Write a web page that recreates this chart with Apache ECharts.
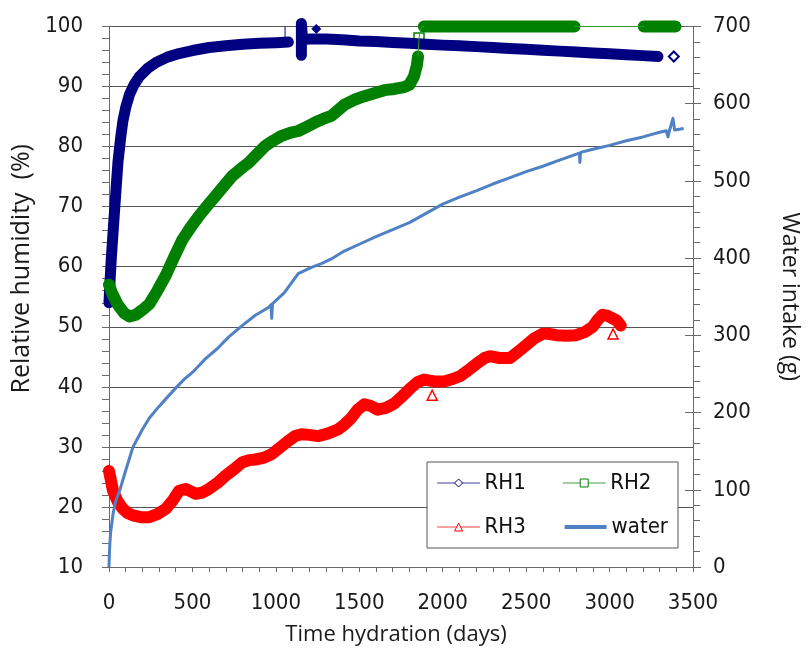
<!DOCTYPE html>
<html><head><meta charset="utf-8">
<script src="https://cdn.jsdelivr.net/npm/echarts@6/dist/echarts.min.js"></script>
<style>html,body{margin:0;padding:0;background:#fff}#c{width:809px;height:651px}</style>
</head><body><div id="c"></div>
<script>
// ---- data (days, values) ----
const rh1Days = [0,5,14,25,34,45,54,70,83,100,123,150,183,230,282,350,420,500,600,700,800,900,1000,1075,1110,1153,1153,1160,1200,1300,1400,1500,1600,1700,1800,1900,2000,2100,2200,2300,2400,2500,2600,2700,2800,2900,3000,3100,3200,3290];
const rh1Vals = [54,57,61.5,66,69.6,74,77.5,81.5,84.2,86.5,88.7,90.3,91.7,93,94,94.9,95.5,96,96.5,96.8,97.05,97.2,97.3,97.4,null,95.2,100.5,97.8,97.9,97.9,97.8,97.6,97.5,97.35,97.2,97.05,96.9,96.8,96.65,96.5,96.35,96.2,96.05,95.9,95.75,95.6,95.45,95.3,95.15,95.0];
const rh1ThinDays = [1055,1055];
const rh1ThinVals = [97.4,100];
const rh1FilledDays = [1242];
const rh1FilledVals = [99.6];
const rh1HollowDays = [3385];
const rh1HollowVals = [95.0];

const rh2Days = [0,20,50,90,123,160,200,242,290,341,390,440,490,540,590,639,690,738,790,837,890,936,985,1035,1085,1134,1185,1234,1283,1332,1370,1412,1470,1531,1590,1650,1710,1769,1800,1828,1845,1852,1870,1887,2790,3000,3205,3395];
const rh2Vals = [57,55.5,53.8,52.3,51.7,52,52.8,53.8,56,58.6,61.6,64.5,66.6,68.5,70.2,71.8,73.5,75.1,76.3,77.3,78.8,80.1,81,81.8,82.3,82.6,83.3,84,84.6,85.1,86,87,87.8,88.4,88.9,89.4,89.6,89.9,90.3,91.7,93.5,95,null,100,100,null,100,100];
const rh2ThinDays = [1852,1858,1872,1887,2000,2790,3205];
const rh2ThinVals = [95,98.1,100,100,null,100,100];
const rh2HollowDays = [1858];
const rh2HollowVals = [98.1];
const rh2TickDays = [2790,3240];
const rh2TickVals = [100,100];

const rh3Days = [0,24,50,83,110,143,190,242,290,341,380,420,460,490,520,560,599,650,698,750,797,840,877,930,975,1030,1075,1115,1154,1200,1253,1310,1372,1410,1451,1490,1531,1570,1610,1660,1709,1760,1808,1850,1888,1950,2007,2060,2106,2150,2205,2250,2284,2340,2403,2450,2502,2550,2602,2640,2681,2740,2800,2850,2899,2930,2958,2990,3018,3045,3067];
const rh3Vals = [26,22.7,21,19.7,19,18.6,18.3,18.3,18.8,19.7,21,22.7,23,22.6,22.2,22.4,23,24,25.2,26.3,27.4,27.8,27.9,28.2,28.8,30,31,31.8,32.1,32,31.8,32.2,32.9,33.7,34.8,36.2,37.1,36.8,36.2,36.5,37.2,38.5,39.8,40.8,41.2,40.9,40.9,41.3,41.8,42.7,43.9,44.8,45.1,44.8,44.8,45.8,47,48.1,48.9,48.8,48.6,48.5,48.6,49.1,50,51.2,52,51.8,51.4,51,50.2];
const rh3HollowDays = [1937,3021];
const rh3HollowVals = [38.6,48.8];

const waterDays = [0,2,5,10,25,40,64,100,143,200,242,300,350,401,450,500,579,650,718,800,877,956,972,975,980,1050,1134,1213,1273,1332,1400,1500,1600,1700,1800,1900,2000,2100,2200,2300,2400,2500,2600,2700,2819,2822,2826,2900,3000,3100,3200,3300,3340,3350,3360,3380,3390,3400,3444];
const waterVals = [0,15,30,45,70,85,99,125,155,178,193,208,220,232,243,252,270,283,298,313,326,336,340,322,341,355,380,388,393,399,408,418,428,437,446,458,470,479,487,496,504,512,519,527,536,524,537,541,546,552,557,563,565,557,566,581,566,567,568];

const xTickLabels = ['0','500','1000','1500','2000','2500','3000','3500'];
const leftTickLabels = ['10','20','30','40','50','60','70','80','90','100'];
const rightTickLabels = ['0','100','200','300','400','500','600','700'];

// ---- helpers ----
const zip = (d, v) => d.map((x, i) => [x, v[i] == null ? '-' : v[i]]);

const NAVY = '#000080', GREEN = '#008000', RED = '#ff0000', BLUE = '#4f81c4';
const TICKFONT = '"DejaVu Sans Condensed", "DejaVu Sans", sans-serif';
const NAMEFONT = '"Open Sans", "Noto Sans", sans-serif';
const AXC = '#6a6a6a';

const labelStyle = { fontFamily: TICKFONT, fontSize: 22, color: '#1a1a1a' };

function band(name, data, color, width, symbol) {
  return { name, type: 'line', yAxisIndex: 0, data, symbol, showSymbol: false, clip: false,
    connectNulls: false, silent: true,
    lineStyle: { color, width, join: 'round', cap: 'round' }, itemStyle: { color } };
}
function thin(name, data, color, axis) {
  return { name, type: 'line', yAxisIndex: axis || 0, data, symbol: 'none', clip: false,
    connectNulls: false, silent: true, lineStyle: { color, width: 1 }, itemStyle: { color } };
}
function marks(name, data, symbol, size, fill, stroke, bw) {
  return { name, type: 'scatter', yAxisIndex: 0, data, symbol, symbolSize: size, clip: false, silent: true,
    itemStyle: { color: fill, borderColor: stroke, borderWidth: bw, opacity: 1 } };
}

const chart = echarts.init(document.getElementById('c'), null, { renderer: 'canvas' });
chart.setOption({
  animation: false,
  backgroundColor: '#fff',
  textStyle: { fontFamily: TICKFONT },
  grid: { left: 109, top: 26.5, width: 588.5, height: 543.5 },
  legend: {
    left: 427, top: 462, width: 240,
    padding: 10, itemGap: 22, itemWidth: 42, itemHeight: 10,
    backgroundColor: '#fff', borderColor: '#555', borderWidth: 1, borderRadius: 0,
    formatter: '{a|{name}}',
    textStyle: { fontFamily: TICKFONT, fontSize: 22, color: '#111',
      rich: { a: { fontFamily: TICKFONT, fontSize: 22, width: 56, lineHeight: 22, color: '#111' } } },
    data: [
      { name: 'RH1', itemStyle: { color: '#fff', borderColor: NAVY, borderWidth: 1 }, lineStyle: { color: '#4040a0', width: 1.2 } },
      { name: 'RH2', itemStyle: { color: '#fff', borderColor: GREEN, borderWidth: 1 }, lineStyle: { color: '#40a040', width: 1.2 } },
      { name: 'RH3', itemStyle: { color: '#fff', borderColor: RED, borderWidth: 1 }, lineStyle: { color: '#ff4040', width: 1.2 } },
      { name: 'water', itemStyle: { opacity: 0 }, lineStyle: { color: BLUE, width: 4 } }
    ]
  },
  xAxis: {
    type: 'value', min: 0, max: 3500, interval: 500,
    name: 'Time hydration (days)', nameLocation: 'middle', nameGap: 57,
    nameTextStyle: { fontFamily: NAMEFONT, fontSize: 22, color: '#1a1a1a', padding: [0, 10, 0, 0] },
    axisLine: { show: true, onZero: false, lineStyle: { color: AXC, width: 1 } },
    axisTick: { show: true, inside: false, length: 5, lineStyle: { color: AXC } },
    minorTick: { show: true, splitNumber: 5, length: 5, lineStyle: { color: AXC } },
    splitLine: { show: false },
    axisLabel: Object.assign({ margin: 25, formatter: (v) => xTickLabels[Math.round(v / 500)] }, labelStyle)
  },
  yAxis: [
    {
      type: 'value', position: 'left', min: 10, max: 100, interval: 10,
      name: 'Relative humidity  (%)', nameLocation: 'middle', nameGap: 67,
      nameTextStyle: { fontFamily: NAMEFONT, fontSize: 25, color: '#1a1a1a', padding: [0, 0, 0, 56] },
      axisLine: { show: true, lineStyle: { color: AXC, width: 1 } },
      axisTick: { show: true, inside: false, length: 7, lineStyle: { color: AXC } },
      minorTick: { show: true, splitNumber: 5, length: 7, lineStyle: { color: AXC } },
      splitLine: { show: true, lineStyle: { color: '#555555', width: 1 } },
      axisLabel: Object.assign({ margin: 26, formatter: (v) => leftTickLabels[Math.round(v / 10) - 1] }, labelStyle)
    },
    {
      type: 'value', position: 'right', min: 0, max: 700, interval: 100,
      name: 'Water intake (g)', nameLocation: 'middle', nameGap: 85, nameRotate: -90,
      nameTextStyle: { fontFamily: NAMEFONT, fontSize: 23, color: '#1a1a1a' },
      axisLine: { show: true, lineStyle: { color: AXC, width: 1 } },
      axisTick: { show: true, inside: false, length: 8, lineStyle: { color: AXC } },
      minorTick: { show: true, splitNumber: 5, length: 7, lineStyle: { color: AXC } },
      splitLine: { show: false },
      axisLabel: Object.assign({ margin: 20, formatter: (v) => rightTickLabels[Math.round(v / 100)] }, labelStyle)
    },
    {
      type: 'value', position: 'right', min: 0, max: 700, interval: 100,
      axisLine: { show: false },
      axisTick: { show: true, inside: true, length: 8, lineStyle: { color: AXC } },
      splitLine: { show: false }, axisLabel: { show: false }
    }
  ],
  series: [
    band('RH1', zip(rh1Days, rh1Vals), NAVY, 11, 'diamond'),
    thin('RH1', zip(rh1ThinDays, rh1ThinVals), NAVY),
    marks('RH1', zip(rh1FilledDays, rh1FilledVals), 'diamond', 9, NAVY, NAVY, 1),
    marks('RH1', zip(rh1HollowDays, rh1HollowVals), 'diamond', 10, '#fff', NAVY, 2),

    band('RH2', zip(rh2Days, rh2Vals), GREEN, 12, 'rect'),
    thin('RH2', zip(rh2ThinDays, rh2ThinVals), '#2e9a2e'),
    marks('RH2', zip(rh2HollowDays, rh2HollowVals), 'rect', 10, '#fff', GREEN, 1.5),
    marks('RH2', zip(rh2TickDays, rh2TickVals), 'rect', [2, 7], '#fff', '#fff', 0),

    band('RH3', zip(rh3Days, rh3Vals), RED, 12, 'triangle'),
    marks('RH3', zip(rh3HollowDays, rh3HollowVals), 'triangle', 10, '#fff', RED, 1.5),

    { name: 'water', type: 'line', yAxisIndex: 1, data: zip(waterDays, waterVals), symbol: 'none',
      clip: false, silent: true, lineStyle: { color: BLUE, width: 3, join: 'round' }, itemStyle: { color: BLUE } }
  ]
});
</script></body></html>
